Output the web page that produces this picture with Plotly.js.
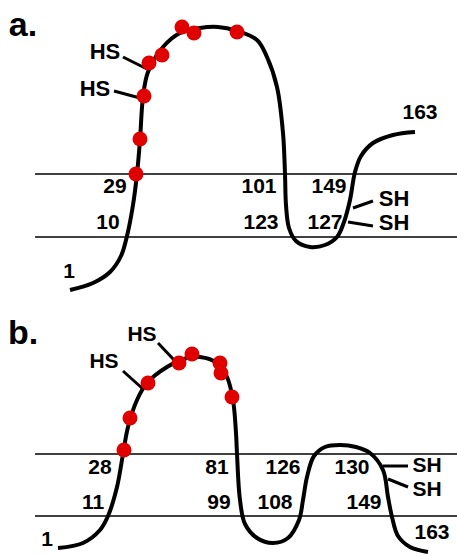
<!DOCTYPE html>
<html>
<head>
<meta charset="utf-8">
<script src="https://cdn.plot.ly/plotly-3.0.1.min.js"></script>
<style>html,body{margin:0;padding:0;background:#fff;}#chart{width:457px;height:554px;}</style>
</head>
<body>
<div id="chart"></div>
<script>
// ---- Panel a: backbone path (diagram units = page pixels) ----
const aPathX = [70, 93, 110, 121, 127, 133, 137, 140, 143, 148, 163, 180, 200, 218, 237, 257, 267, 277, 283, 285, 286, 289, 296, 310, 325, 337, 344, 350, 355, 361, 373, 393, 415];
const aPathY = [290, 283, 272, 256, 236, 205, 174, 140, 97, 72, 47, 33, 28, 27, 31, 40, 57, 87, 133, 174, 205, 228, 241, 247, 245, 237, 222, 200, 172, 156, 143, 135, 132];
const aDotsX = [136, 140, 144, 149, 162, 182, 194, 237];
const aDotsY = [174, 139, 96, 63, 55, 27, 33, 32];
const aMembraneY = [174, 237];
const aNumText = ['29', '10', '1', '101', '123', '149', '127', '163'];
const aNumX = [115, 108, 69, 259, 261, 329, 325, 420];
const aNumY = [188, 224, 273, 188, 224, 188, 224, 114];
const aSideText = ['HS', 'HS', 'SH', 'SH'];
const aSideX = [105, 95, 394, 394];
const aSideY = [53, 90, 200, 224];
const aStickX = [[123, 147], [114, 140], [353, 373], [348, 373]];
const aStickY = [[57, 69], [91, 98], [208, 201], [222, 226]];

// ---- Panel b ----
const bPathX = [58, 83, 100, 108, 117, 123, 128, 137, 147, 167, 187, 200, 217, 227, 233, 236, 237, 240, 245, 257, 273, 288, 299, 303, 307, 314, 325, 340, 356, 370, 383, 388, 392, 398, 410, 428];
const bPathY = [548, 543, 530, 516, 487, 454, 427, 400, 383, 367, 358, 357, 363, 377, 400, 433, 454, 500, 524, 538, 543, 538, 520, 500, 477, 456, 447, 445, 447, 453, 470, 497, 517, 536, 547, 552];
const bDotsX = [124, 130, 148, 179, 192, 220, 221, 232];
const bDotsY = [450, 418, 383, 363, 354, 363, 373, 397];
const bMembraneY = [454, 516];
const bNumText = ['28', '11', '1', '81', '99', '126', '108', '130', '149', '163'];
const bNumX = [100, 93, 47, 217, 219, 283, 275, 352, 364, 432];
const bNumY = [469, 504, 541, 469, 504, 469, 504, 469, 504, 534];
const bSideText = ['HS', 'HS', 'SH', 'SH'];
const bSideX = [104, 142, 427, 427];
const bSideY = [363, 336, 467, 491];
const bStickX = [[123, 143], [158, 175], [383, 408], [388, 408]];
const bStickY = [[371, 389], [343, 361], [466, 466], [479, 487]];

const panelLabels = ['a.', 'b.'];
const panelLabelX = [23, 23];
const panelLabelY = [27, 335];

const FONT = 'Liberation Sans, Arial, Helvetica, sans-serif';
const traces = [];

function membrane(ys) {
  ys.forEach(y => traces.push({x: [35, 457], y: [y, y], mode: 'lines', line: {color: '#000', width: 1.5}, hoverinfo: 'skip'}));
}
function sticks(xs, ys) {
  xs.forEach((sx, i) => traces.push({x: sx, y: ys[i], mode: 'lines', line: {color: '#000', width: 3}, hoverinfo: 'skip'}));
}
function texts(t, x, y, size) {
  traces.push({x: x, y: y, text: t.map(s => '<b>' + s + '</b>'), mode: 'text', textposition: 'middle center',
    textfont: {family: FONT, size: size, color: '#000'}, hoverinfo: 'skip'});
}

membrane(aMembraneY);
membrane(bMembraneY);
sticks(aStickX, aStickY);
sticks(bStickX, bStickY);
traces.push({x: aPathX, y: aPathY, mode: 'lines', line: {color: '#000', width: 4, shape: 'spline', smoothing: 1}, hoverinfo: 'skip'});
traces.push({x: bPathX, y: bPathY, mode: 'lines', line: {color: '#000', width: 4, shape: 'spline', smoothing: 1}, hoverinfo: 'skip'});
traces.push({x: aDotsX, y: aDotsY, mode: 'markers', marker: {color: '#e00000', size: 15}, hoverinfo: 'skip'});
traces.push({x: bDotsX, y: bDotsY, mode: 'markers', marker: {color: '#e00000', size: 15}, hoverinfo: 'skip'});
texts(aNumText, aNumX, aNumY, 21);
texts(bNumText, bNumX, bNumY, 21);
texts(aSideText, aSideX, aSideY, 22);
texts(bSideText, bSideX, bSideY, 21);
texts(panelLabels, panelLabelX, panelLabelY, 34);

const layout = {
  width: 457, height: 554,
  margin: {l: 0, r: 0, t: 0, b: 0},
  paper_bgcolor: '#fff', plot_bgcolor: '#fff',
  showlegend: false,
  xaxis: {range: [0, 457], visible: false, fixedrange: true},
  yaxis: {range: [554, 0], visible: false, fixedrange: true}
};
Plotly.newPlot('chart', traces, layout, {staticPlot: true, displayModeBar: false});
</script>
</body>
</html>
